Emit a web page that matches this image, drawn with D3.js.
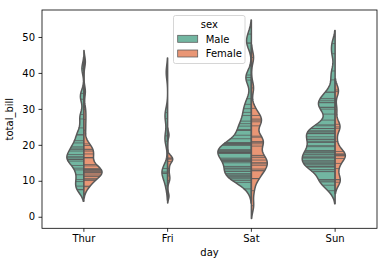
<!DOCTYPE html>
<html>
<head>
<meta charset="utf-8">
<script src="https://cdn.jsdelivr.net/npm/d3@7"></script>
<style>
  body { margin: 0; background: #fff; }
  svg { display: block; }
  text { font-family: "DejaVu Sans", sans-serif; }
</style>
</head>
<body>
<div id="chart"></div>
<script>
// split violins of total_bill per day, male left / female right,
// one stick per observation drawn out to the density edge

const days = ["Thur", "Fri", "Sat", "Sun"];
const sexes = ["Male", "Female"];
const yTicks = [0, 10, 20, 30, 40, 50];

const thurMale = [27.2, 22.76, 17.29, 19.44, 16.66, 32.68, 15.98, 13.03, 18.28, 24.71, 21.16, 11.69, 14.26, 15.95, 8.52,
  22.82, 19.08, 16.0, 34.3, 41.19, 9.78, 7.51, 28.44, 15.48, 16.58, 7.56, 10.34, 13.51, 18.71, 20.53];
const thurFemale = [10.07, 34.83, 10.65, 12.43, 24.08, 13.42, 12.48, 29.8, 14.52, 11.38, 20.27, 11.17, 12.26, 18.26, 8.51,
  10.33, 14.15, 13.16, 17.47, 27.05, 16.43, 8.35, 18.64, 11.87, 19.81, 43.11, 13.0, 12.74, 13.0, 16.4, 16.47, 18.78];
const friMale = [28.97, 22.49, 40.17, 27.28, 12.03, 21.01, 12.46, 12.16, 8.58, 13.42];
const friFemale = [5.75, 16.32, 22.75, 11.35, 15.38, 13.42, 15.98, 16.27, 10.09];
const satMale = [20.65, 17.92, 39.42, 19.82, 17.81, 13.37, 12.69, 21.7, 9.55, 18.35, 17.78, 24.06, 16.31, 18.69, 31.27,
  16.04, 38.01, 11.24, 48.27, 20.29, 13.81, 11.02, 18.29, 17.59, 20.08, 20.23, 15.01, 12.02, 10.51, 17.92, 15.36, 20.49,
  25.21, 18.24, 14.0, 50.81, 15.81, 26.59, 38.73, 24.27, 30.06, 25.89, 48.33, 28.15, 11.59, 7.74, 20.45, 13.28, 24.01,
  15.69, 11.61, 10.77, 15.53, 10.07, 12.6, 32.83, 29.03, 22.67, 17.82];
const satFemale = [20.29, 15.77, 19.65, 15.06, 20.69, 16.93, 26.41, 16.45, 3.07, 17.07, 26.86, 25.28, 14.73, 44.3, 22.42,
  20.92, 14.31, 7.25, 10.59, 10.63, 12.76, 13.27, 28.17, 12.9, 30.14, 22.12, 35.83, 27.18];
const sunMale = [10.34, 21.01, 23.68, 25.29, 8.77, 26.88, 15.04, 14.78, 10.27, 15.42, 18.43, 21.58, 16.29, 17.46, 13.94,
  9.68, 30.4, 18.29, 22.23, 32.4, 28.55, 18.04, 12.54, 9.94, 25.56, 19.49, 38.07, 23.95, 29.93, 14.07, 13.13, 17.26,
  24.55, 19.77, 48.17, 16.49, 21.5, 12.66, 13.81, 24.52, 20.76, 31.71, 7.25, 31.85, 16.82, 32.9, 17.89, 14.48, 34.63,
  34.65, 23.33, 45.35, 23.17, 40.55, 20.69, 30.46, 23.1, 15.69];
const sunFemale = [16.99, 24.59, 35.26, 14.83, 10.33, 16.97, 10.29, 34.81, 25.71, 17.31, 29.85, 25.0, 13.39, 16.21,
  17.51, 9.6, 20.9, 18.15];

const billsByDay = {
  Thur: [thurMale, thurFemale],
  Fri: [friMale, friFemale],
  Sat: [satMale, satFemale],
  Sun: [sunMale, sunFemale],
};

const W = 387, H = 266;
const box = { left: 42, right: 377, top: 10, bottom: 228.3 };

const BW_FACTOR = 0.2, CUT = 2, GRID = 100, VIOLIN_WIDTH = 0.8;

// palette: Set2 desaturated to 75%, outline gray from the darkest lightness
const basePalette = ["#66c2a5", "#fc8d62"];
const colors = basePalette.map(c => { const h = d3.hsl(c); h.s *= 0.75; return h.formatHex(); });
const lum = Math.round(d3.min(basePalette, c => d3.hsl(c).l) * 0.6 * 255);
const gray = d3.rgb(lum, lum, lum).formatHex();

function kde(values) {
  const n = values.length;
  const bw = BW_FACTOR * d3.deviation(values);
  const lo = d3.min(values) - CUT * bw, hi = d3.max(values) + CUT * bw;
  const support = d3.range(GRID).map(i => lo + (hi - lo) * i / (GRID - 1));
  const density = support.map(s =>
    d3.sum(values, v => Math.exp(-0.5 * ((s - v) / bw) ** 2)) / (n * bw * Math.sqrt(2 * Math.PI)));
  return { support, density };
}

const maxCount = d3.max(days, d => d3.max(billsByDay[d], a => a.length));

const violins = [];
days.forEach(day => {
  billsByDay[day].forEach((vals, j) => {
    const { support, density } = kde(vals);
    const dmax = d3.max(density);
    const scaled = density.map(v => v / dmax * vals.length / maxCount);
    violins.push({ day, j, vals, support, density: scaled });
  });
});

const lo = d3.min(violins, v => v.support[0]);
const hi = d3.max(violins, v => v.support[GRID - 1]);
const pad = (hi - lo) * 0.05;

const x = d3.scaleBand().domain(days).range([box.left, box.right]).padding(0);
const y = d3.scaleLinear().domain([lo - pad, hi + pad]).range([box.bottom, box.top]);
const half = x.bandwidth() * VIOLIN_WIDTH / 2;

const svg = d3.select("#chart").append("svg").attr("width", W).attr("height", H);

const plot = svg.append("g");
violins.forEach(v => {
  const cx = x(v.day) + x.bandwidth() / 2;
  const side = v.j === 0 ? -1 : 1;
  const pts = v.support.map((s, i) => [cx + side * v.density[i] * half, y(s)]);
  const back = v.support.slice().reverse().map(s => [cx, y(s)]);
  plot.append("path")
    .attr("d", d3.line()(pts.concat(back)) + "Z")
    .attr("fill", colors[v.j])
    .attr("stroke", gray)
    .attr("stroke-width", 1.5)
    .attr("stroke-linejoin", "round");

  plot.selectAll(null)
    .data(v.vals)
    .enter()
    .append("line")
    .attr("x1", cx)
    .attr("x2", d => {
      const idx = d3.minIndex(v.support, s => Math.abs(s - d));
      return cx + side * v.density[idx] * half * 0.99;
    })
    .attr("y1", d => y(d))
    .attr("y2", d => y(d))
    .attr("stroke", gray)
    .attr("stroke-width", 0.75);
});

// axes
const yAxis = svg.append("g")
  .attr("transform", `translate(${box.left},0)`)
  .call(d3.axisLeft(y).tickValues(yTicks).tickSize(3.5).tickPadding(3.5));
const xAxis = svg.append("g")
  .attr("transform", `translate(0,${box.bottom})`)
  .call(d3.axisBottom(x).tickSize(3.5).tickPadding(3.5));
[yAxis, xAxis].forEach(g => {
  g.select(".domain").remove();
  g.selectAll("line").attr("stroke", "#000").attr("stroke-width", 0.8);
  g.selectAll("text").attr("font-size", 10).attr("fill", "#000")
    .attr("font-family", "DejaVu Sans, sans-serif");
});

svg.append("rect")
  .attr("x", box.left).attr("y", box.top)
  .attr("width", box.right - box.left).attr("height", box.bottom - box.top)
  .attr("fill", "none").attr("stroke", "#000").attr("stroke-width", 0.8);

svg.append("text")
  .attr("transform", `translate(13,${(box.top + box.bottom) / 2}) rotate(-90)`)
  .attr("text-anchor", "middle").attr("font-size", 10).text("total_bill");
svg.append("text")
  .attr("x", (box.left + box.right) / 2).attr("y", 256)
  .attr("text-anchor", "middle").attr("font-size", 10).text("day");

// legend
const legend = svg.append("g");
legend.append("rect")
  .attr("x", 173.5).attr("y", 15.5).attr("width", 71.5).attr("height", 48).attr("rx", 2)
  .attr("fill", "#fff").attr("fill-opacity", 0.8)
  .attr("stroke", "#cccccc").attr("stroke-width", 0.8);
legend.append("text")
  .attr("x", 209.3).attr("y", 27.5).attr("text-anchor", "middle").attr("font-size", 10).text("sex");
sexes.forEach((s, j) => {
  legend.append("rect")
    .attr("x", 177.7).attr("y", 35.3 + j * 14.7).attr("width", 20).attr("height", 7)
    .attr("fill", colors[j]).attr("stroke", gray).attr("stroke-width", 0.75);
  legend.append("text")
    .attr("x", 205.7).attr("y", 42.5 + j * 14.7).attr("font-size", 10).text(s);
});
</script>
</body>
</html>
